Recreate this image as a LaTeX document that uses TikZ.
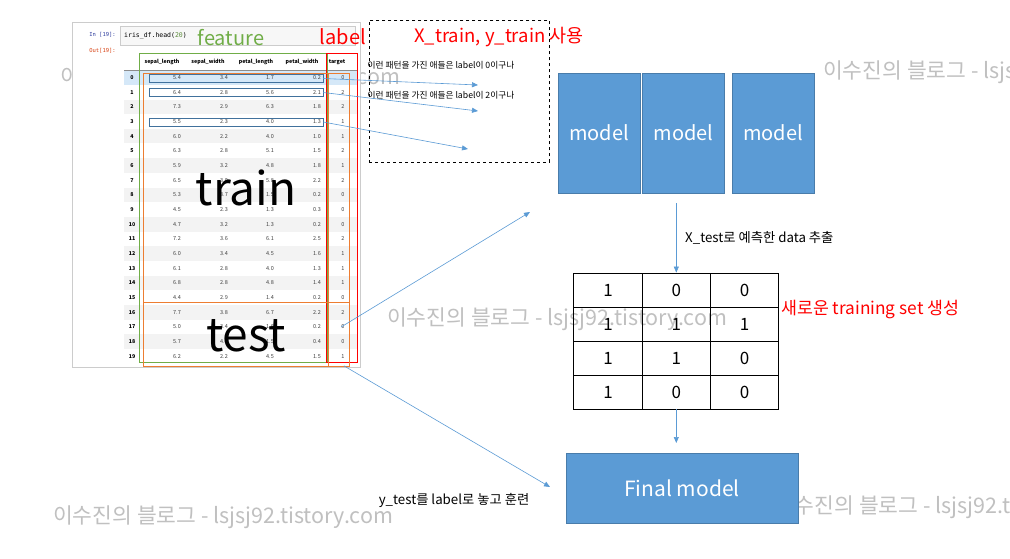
\documentclass[tikz,border=0pt]{standalone}
\usepackage{fontspec}
\setmainfont{Noto Sans CJK KR}
\setmonofont{DejaVu Sans Mono}
\usepackage{xcolor}
\usetikzlibrary{arrows.meta,positioning,calc}
\definecolor{mblue}{HTML}{5B9BD5}
\definecolor{fgreen}{HTML}{70AD47}
\definecolor{lred}{HTML}{FF0000}
\definecolor{sorange}{HTML}{ED7D31}
\definecolor{selblue}{HTML}{41719C}
\definecolor{wmark}{HTML}{C0C0C0}
\definecolor{stripe}{HTML}{F3F3F3}
\definecolor{selrow}{HTML}{D5E8F8}
\definecolor{inblue}{HTML}{303F9F}
\definecolor{outred}{HTML}{D84315}
\tikzset{
  model/.style={rectangle, fill=mblue, draw=mblue!80!black, line width=0.5pt, text=white,
    minimum width=82pt, minimum height=120pt, inner sep=0pt, font=\fontsize{20}{24}\selectfont},
  arr/.style={-{Triangle[length=6pt,width=5pt]}, draw=mblue, line width=0.6pt},
  wm/.style={anchor=west, text=wmark, inner sep=0pt, font=\fontsize{21.5}{24}\selectfont},
  cell/.style={rectangle, draw=black, line width=0.8pt, minimum width=68.3pt, minimum height=34pt,
    inner sep=0pt, font=\fontsize{17}{20}\selectfont},
  tab/.style={inner sep=0pt, text=black!75, font=\fontsize{5.5}{6}\selectfont},
  tabhead/.style={inner sep=0pt, text=black, font=\fontsize{5.3}{6}\selectfont\bfseries},
  selbox/.style={rectangle, draw=selblue, line width=0.5pt, minimum width=174pt, minimum height=8pt, inner sep=0pt},
  note/.style={inner sep=0pt, font=\fontsize{13.3}{15}\selectfont},
}
\begin{document}
\begin{tikzpicture}[x=1pt, y=-1pt,
    hint/.style={inner sep=0pt, font=\fontsize{8.7}{10}\selectfont},
    big/.style={inner sep=0pt, font=\fontsize{46}{50}\selectfont},
  ]
  \clip (0,0) rectangle (1010,558);
  \fill[white] (0,0) rectangle (1010,558);
  % ── watermarks (under everything) ─────────────────────────────────
  \node[wm] (wm1) at (60,78)   {이수진의 블로그 - lsjsj92.tistory.com};
  \node[wm] (wm2) at (823,72)  {이수진의 블로그 - lsjsj92.tistory.com};
  \node[wm] (wm3) at (387,319) {이수진의 블로그 - lsjsj92.tistory.com};
  \node[wm] (wm4) at (53,517)  {이수진의 블로그 - lsjsj92.tistory.com};
  \node[wm] (wm5) at (775,507) {이수진의 블로그 - lsjsj92.tistory.com};
  % ── notebook screenshot ───────────────────────────────────────────
  \draw[black!20, fill=white] (72,22) rectangle (360,367);
  \node[draw=black!20, fill=black!3, minimum width=235pt, minimum height=19pt, anchor=north west,
        inner sep=0pt] (incell) at (120,26) {};
  \node[anchor=west, inner sep=0pt, font=\ttfamily\fontsize{6.5}{7}\selectfont] (code)
    at ($(incell.west)+(4pt,0)$) {iris\_df.head(\textcolor{fgreen!80!black}{20})};
  \node[anchor=east, inner sep=0pt, text=inblue, font=\ttfamily\fontsize{5.5}{6}\selectfont] (inlbl)
    at (116,35) {In [19]:};
  \node[anchor=east, inner sep=0pt, text=outred, font=\ttfamily\fontsize{5.5}{6}\selectfont] (outlbl)
    at (116,51) {Out[19]:};
  % stripes and selected row
  \foreach \r in {2,4,...,18}
    \fill[stripe] (124,{77.5+14.67*\r-7.3}) rectangle (357,{77.5+14.67*\r+7.3});
  \fill[selrow] (124,70.2) rectangle (357,84.8);
  \draw[black!45, line width=0.4pt] (124,70) -- (357,70);
  % header
  \node[tabhead] (h1) at (162,62) {sepal\_length};
  \node[tabhead] (h2) at (208,62) {sepal\_width};
  \node[tabhead] (h3) at (256,62) {petal\_length};
  \node[tabhead] (h4) at (302,62) {petal\_width};
  \node[tabhead] (h5) at (337,62) {target};
  % rows
  \foreach \r/\a/\b/\c/\d/\t in {0/5.4/3.4/1.7/0.2/0, 1/6.4/2.8/5.6/2.1/2, 2/7.3/2.9/6.3/1.8/2,
      3/5.5/2.3/4.0/1.3/1, 4/6.0/2.2/4.0/1.0/1, 5/6.3/2.8/5.1/1.5/2, 6/5.9/3.2/4.8/1.8/1,
      7/6.5/3.0/5.8/2.2/2, 8/5.3/3.7/1.5/0.2/0, 9/4.5/2.3/1.3/0.3/0, 10/4.7/3.2/1.3/0.2/0,
      11/7.2/3.6/6.1/2.5/2, 12/6.0/3.4/4.5/1.6/1, 13/6.1/2.8/4.0/1.3/1, 14/6.8/2.8/4.8/1.4/1,
      15/4.4/2.9/1.4/0.2/0, 16/7.7/3.8/6.7/2.2/2, 17/5.0/3.4/1.6/0.2/0, 18/5.7/4.4/1.5/0.4/0,
      19/6.2/2.2/4.5/1.5/1} {
    \node[tabhead] (i-\r) at (132,{77.5+14.67*\r}) {\r};
    \node[tab] (v-\r-1) at (177,{77.5+14.67*\r}) {\a};
    \node[tab] (v-\r-2) at (224,{77.5+14.67*\r}) {\b};
    \node[tab] (v-\r-3) at (270,{77.5+14.67*\r}) {\c};
    \node[tab] (v-\r-4) at (317,{77.5+14.67*\r}) {\d};
    \node[tab] (v-\r-5) at (343,{77.5+14.67*\r}) {\t};
  }
  % feature / label / train-test frames
  \node[draw=fgreen, line width=0.6pt, minimum width=188pt, minimum height=309pt, anchor=north west,
        inner sep=0pt] (featbox) at (139,53) {};
  \node[draw=lred, line width=0.8pt, minimum width=31pt, minimum height=309pt, anchor=north west,
        inner sep=0pt] (labelbox) at (326,53) {};
  \node[draw=sorange, line width=0.6pt, minimum width=206pt, minimum height=229pt, anchor=north west,
        inner sep=0pt] (trainbox) at (143,73) {};
  \node[draw=sorange, line width=0.6pt, minimum width=206pt, minimum height=64pt, anchor=north west,
        inner sep=0pt] (testbox) at (143,302) {};
  \draw[sorange, line width=0.6pt] (328,73) -- (328,366);
  \node[selbox] (sel0) at (236,78.5)  {};
  \node[selbox] (sel1) at (236,92.5)  {};
  \node[selbox] (sel3) at (236,122)   {};
  \node[big] (train) at (246,188) {train};
  \node[big] (test)  at (246,336) {test};
  % ── titles above the table ────────────────────────────────────────
  \node[inner sep=0pt, text=fgreen, font=\fontsize{20}{24}\selectfont] (feature) at (231,38) {feature};
  \node[inner sep=0pt, text=lred, font=\fontsize{20}{24}\selectfont] (label) at (343,37) {label};
  % ── pattern notes ─────────────────────────────────────────────────
  \node[draw, dashed, line width=0.6pt, minimum width=180pt, minimum height=142pt, anchor=north west,
        inner sep=0pt] (hintbox) at (369,20) {};
  \node[inner sep=0pt, text=lred, font=\fontsize{18.5}{21}\selectfont] (xytrain) at (499,37)
    {X\_train, y\_train 사용};
  \node[hint] (hint0) at (441,65) {이런 패턴을 가진 애들은 label이 0이구나};
  \node[hint] (hint1) at (441,95) {이런 패턴을 가진 애들은 label이 2이구나};
  \coordinate (tip0) at (478,85);
  \coordinate (tip1) at (478,111);
  \coordinate (tip2) at (468,149);
  \draw[arr] (sel0.east) -- (tip0);
  \draw[arr] (sel1.east) -- (tip1);
  \draw[arr] (sel3.east) -- (tip2);
  % ── models ────────────────────────────────────────────────────────
  \node[model] (m1) at (599,133) {model};
  \node[model, right=2pt of m1] (m2) {model};
  \node[model, right=7pt of m2] (m3) {model};
  \coordinate (tipm) at (530,212);
  \draw[arr] (v-17-5.west) -- (tipm);
  % ── new training set ──────────────────────────────────────────────
  \foreach \v [count=\k from 0] in {1,0,0,1,1,1,1,1,0,1,0,0} {
    \pgfmathtruncatemacro\gr{div(\k,3)}
    \pgfmathtruncatemacro\gc{mod(\k,3)}
    \node[cell] (g-\gr-\gc) at ({608+68.3*\gc},{290+34*\gr}) {\v};
  }
  \coordinate (predtop) at (g-0-1.north |- 0,203);
  \draw[arr] (predtop) -- (g-0-1.north);
  \node[note, anchor=west] (pred) at (685,238) {X\_test로 예측한 data 추출};
  \node[inner sep=0pt, anchor=west, text=lred, font=\fontsize{17.3}{20}\selectfont] (newset) at (781,310)
    {새로운 training set 생성};
  % ── final model ───────────────────────────────────────────────────
  \node[model, minimum width=232pt, minimum height=70pt, font=\fontsize{21}{24}\selectfont] (final)
    at (682,488) {Final model};
  \coordinate (finaltop) at (g-3-1.south |- 0,443);
  \draw[arr] (g-3-1.south) -- (finaltop);
  \coordinate (tipf) at (550,487);
  \draw[arr] (labelbox.south) ++(2,3) -- (tipf);
  \node[note] (ytest) at (454,500) {y\_test를 label로 놓고 훈련};
\end{tikzpicture}
\end{document}
